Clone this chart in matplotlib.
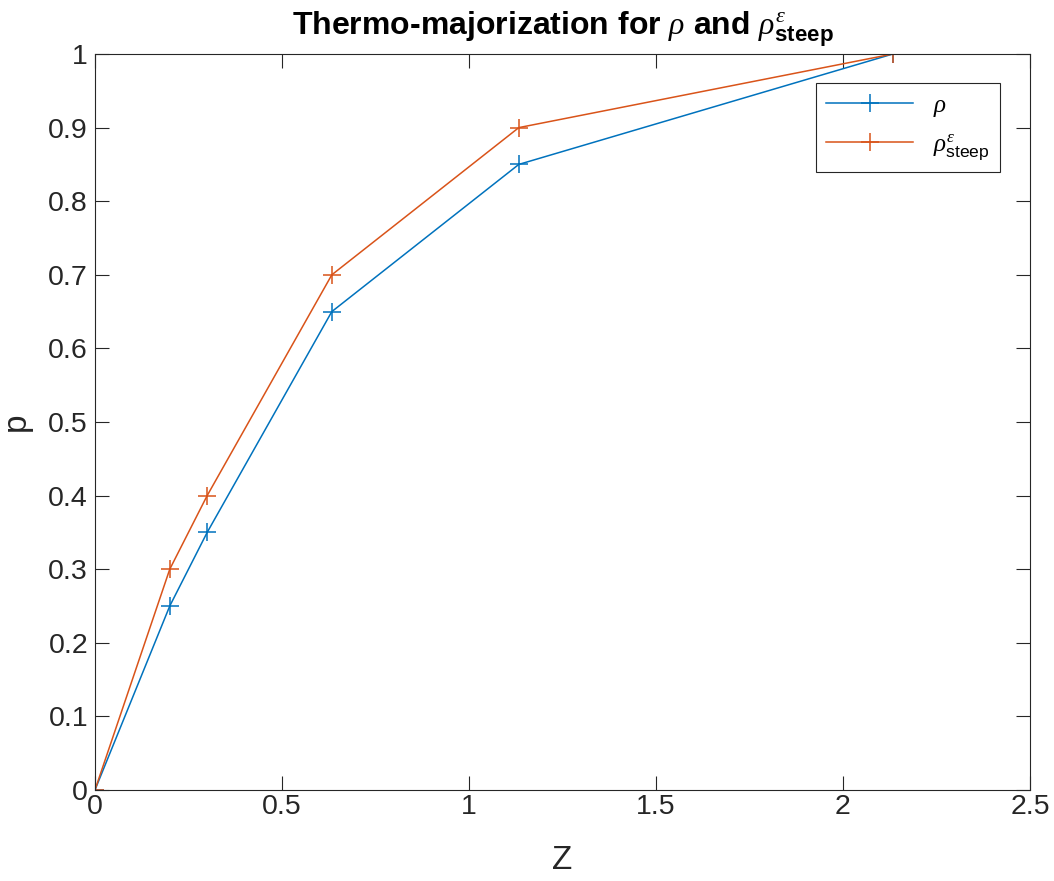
import numpy as np
import matplotlib.pyplot as plt

plt.rcParams['font.family'] = ['Liberation Sans', 'DejaVu Sans']
plt.rcParams['mathtext.fontset'] = 'custom'
plt.rcParams['mathtext.it'] = 'Liberation Serif:italic'
plt.rcParams['mathtext.rm'] = 'Liberation Serif'
plt.rcParams['mathtext.sf'] = 'Liberation Sans'
plt.rcParams['mathtext.bf'] = 'Liberation Sans:bold'

Z = [0, 0.2, 0.3, 0.6333, 1.1333, 2.1333]
p_rho = [0, 0.25, 0.35, 0.65, 0.85, 1.0]
p_steep = [0, 0.3, 0.4, 0.7, 0.9, 1.0]

fig = plt.figure(figsize=(10.54, 8.81), dpi=100)
ax = fig.add_axes([0.0901, 0.1033, 0.8871, 0.8354])

ax.plot(Z, p_rho, color='#0072BD', lw=1.1, marker='+', ms=13, mew=1.1, label=r'$\rho$')
ax.plot(Z, p_steep, color='#D95319', lw=1.1, marker='+', ms=13, mew=1.1,
        label=r'$\rho^{\varepsilon}_{\mathsf{steep}}$')

ax.set_xlim(0, 2.5)
ax.set_ylim(0, 1)
ax.set_xticks(np.arange(0, 2.51, 0.5))
ax.set_xticklabels(['0', '0.5', '1', '1.5', '2', '2.5'])
ax.set_yticks(np.arange(0, 1.01, 0.1))
ax.set_yticklabels(['0', '0.1', '0.2', '0.3', '0.4', '0.5', '0.6', '0.7', '0.8', '0.9', '1'])
ax.tick_params(direction='in', top=True, right=True, labelsize=20.5, labelcolor='#262626',
               color='#262626', length=10, width=0.8, pad=5)
ax.tick_params(axis='x', pad=3)
for s in ax.spines.values():
    s.set_color('#262626')
    s.set_linewidth(0.8)

ax.set_xlabel('Z', fontsize=24, color='#262626', labelpad=18)
ax.set_ylabel('p', fontsize=24, color='#262626', labelpad=12)
ax.set_title(r'Thermo-majorization for $\rho$ and $\rho^{\varepsilon}_{\mathbf{steep}}$',
             fontsize=23, fontweight='bold', pad=14)

leg = ax.legend(loc='upper right', bbox_to_anchor=(0.968, 0.9606), fontsize=18,
                fancybox=False, framealpha=1, edgecolor='#262626', borderpad=0.4,
                handlelength=3.5, labelspacing=0.5, borderaxespad=0)
leg.get_frame().set_linewidth(0.8)

fig.savefig('out.png', dpi=100)
